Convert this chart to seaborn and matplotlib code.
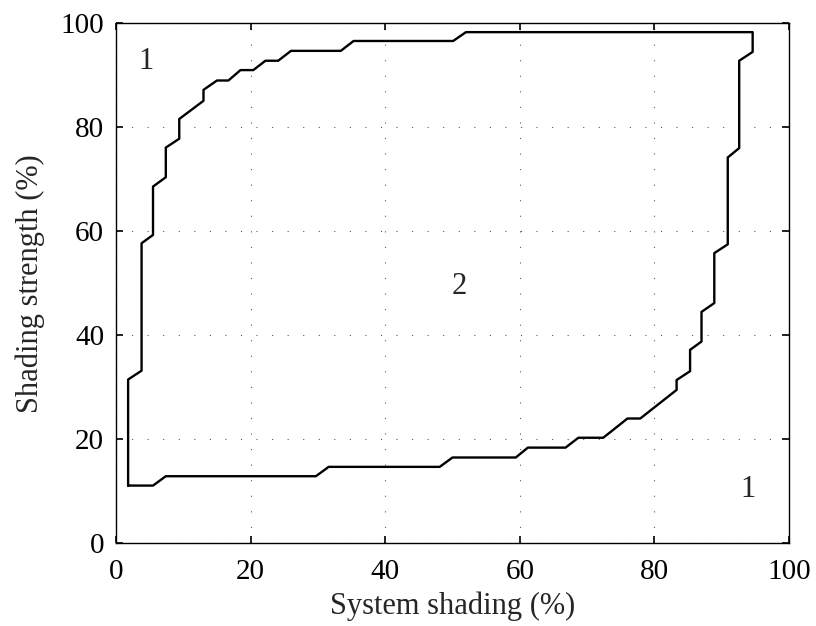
import matplotlib
matplotlib.use('Agg')
import matplotlib.pyplot as plt
import seaborn as sns
import pandas as pd

# boundary between region 1 and region 2 (traced counter-clockwise, closed)
system_shading = [1.8, 5.5, 7.4, 29.7, 31.6, 48.1, 50.0, 59.4, 61.2, 66.8, 68.7, 72.4,
                  76.0, 77.9, 83.3, 83.3, 85.3, 85.3, 87.0, 87.0, 88.9, 88.9, 90.9, 90.9,
                  92.6, 92.6, 94.6, 94.6, 52.0, 50.1, 35.3, 33.4, 26.0, 24.1, 22.2, 20.4,
                  18.5, 16.7, 15.0, 13.0, 13.0, 9.4, 9.4, 7.4, 7.4, 5.5, 5.5, 3.8, 3.8,
                  1.8, 1.8]
shading_strength = [11.1, 11.1, 12.9, 12.9, 14.7, 14.7, 16.5, 16.5, 18.4, 18.4, 20.3, 20.3,
                    24.0, 24.0, 29.5, 31.4, 33.1, 37.2, 38.8, 44.5, 46.2, 55.8, 57.5, 74.2,
                    76.0, 92.8, 94.5, 98.3, 98.3, 96.6, 96.6, 94.7, 94.7, 92.8, 92.8, 91.0,
                    91.0, 89.0, 89.0, 87.2, 85.1, 81.6, 77.8, 76.1, 70.4, 68.6, 59.3, 57.7,
                    33.2, 31.5, 11.1]

region_labels = ['1', '2', '1']
label_x = [4.5, 51.0, 93.9]
label_y = [92.6, 49.3, 10.3]

ticks = [0, 20, 40, 60, 80, 100]

df = pd.DataFrame({'x': system_shading, 'y': shading_strength})

sns.set_theme(style='ticks')
plt.rcParams['font.family'] = ['Liberation Serif', 'DejaVu Serif']

fig = plt.figure(figsize=(8.16, 6.26), dpi=100)
ax = fig.add_axes([116 / 816, 1 - 543.3 / 626, (789 - 116) / 816, (543.3 - 23.3) / 626])

sns.lineplot(data=df, x='x', y='y', sort=False, estimator=None, ax=ax,
             color='black', linewidth=1.7)

for t, x, y in zip(region_labels, label_x, label_y):
    ax.text(x, y, t, fontsize=22, ha='center', va='center')

ax.set_xlim(0, 100)
ax.set_ylim(0, 100)
ax.set_xticks(ticks)
ax.set_yticks(ticks)
ax.grid(True, color='0.35', linestyle=(0, (1, 13)), linewidth=0.8)
ax.tick_params(direction='in', top=True, right=True, length=5, width=1.2,
               labelsize=21, colors='black')
ax.tick_params(axis='x', pad=11)
ax.tick_params(axis='y', pad=8.5)
for s in ax.spines.values():
    s.set_visible(True)
    s.set_linewidth(1.0)
    s.set_color('black')

ax.set_xlabel('System shading (%)', fontsize=22)
ax.set_ylabel('Shading strength (%)', fontsize=22)
ax.xaxis.set_label_coords(0.5, -0.092)
ax.yaxis.set_label_coords(-0.106, 0.5)

fig.savefig('out.png', dpi=100)
